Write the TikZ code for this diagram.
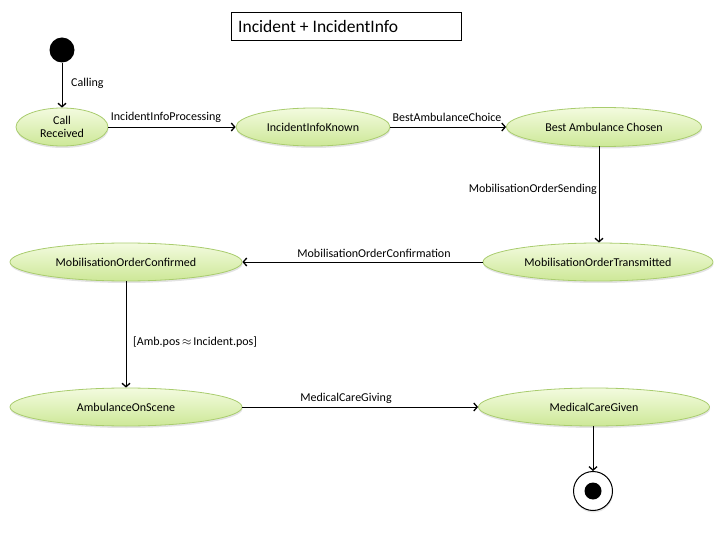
\documentclass[tikz,border=0pt]{standalone}
\usepackage{fontspec}
\setmainfont{Carlito}
\usetikzlibrary{arrows.meta,shapes.geometric,shadows}
\definecolor{stborder}{HTML}{A9CC6E}
\definecolor{sttop}{HTML}{F3FBDF}
\definecolor{stbot}{HTML}{CDE897}
\tikzset{
  st/.style={ellipse, draw=stborder, line width=0.8pt, top color=sttop, bottom color=stbot,
    inner sep=0pt, font=\fontsize{12}{13.5}\selectfont, align=center,
    drop shadow={opacity=0.22, shadow xshift=0.5pt, shadow yshift=-2pt}},
  tr/.style={draw=black, line width=0.9pt, -{Straight Barb[length=3.5pt,width=8pt,line width=1.3pt]}},
  lbl/.style={font=\fontsize{12}{13}\selectfont, inner sep=0pt}
}
\begin{document}
\begin{tikzpicture}[x=1pt,y=-1pt]
\useasboundingbox (0,0) rectangle (720,540);
% title
\node[draw=black, line width=0.8pt, minimum width=230pt, minimum height=28pt, inner sep=0pt] (title) at (346,26) {};
\node[anchor=west, font=\fontsize{17.5}{19}\selectfont, inner sep=0pt] (titletext) at (238,26) {Incident + IncidentInfo};
% states
\node[circle, fill=black, minimum size=25pt, inner sep=0pt] (init) at (62,50) {};
\node[st, minimum width=92pt, minimum height=38pt] (cr) at (62,127) {Call\\Received};
\node[st, minimum width=154pt, minimum height=38pt] (iik) at (313,127) {IncidentInfoKnown};
\node[st, minimum width=195pt, minimum height=39pt] (bac) at (604,127) {Best Ambulance Chosen};
\node[st, minimum width=230pt, minimum height=38pt] (mot) at (598,262) {MobilisationOrderTransmitted};
\node[st, minimum width=232pt, minimum height=38pt] (moc) at (126,262) {MobilisationOrderConfirmed};
\node[st, minimum width=232pt, minimum height=38pt] (aos) at (126,407) {AmbulanceOnScene};
\node[st, minimum width=231pt, minimum height=38pt] (mcg) at (594,407) {MedicalCareGiven};
\node[circle, draw=black, line width=1pt, fill=white, minimum size=39pt, inner sep=0pt,
  drop shadow={opacity=0.2, shadow xshift=0.5pt, shadow yshift=-2pt}] (fin) at (593,491) {};
\node[circle, fill=black, minimum size=17pt, inner sep=0pt] (findot) at (fin.center) {};
% transitions
\draw[tr] (init) -- (cr);
\draw[tr] (cr) -- (iik);
\draw[tr] (iik) -- (bac);
\coordinate (bacb) at (599,146);
\draw[tr] (bacb) -- (mot.north -| bacb);
\draw[tr] (mot) -- (moc);
\draw[tr] (moc.south) -- (aos.north);
\draw[tr] (aos) -- (mcg);
\draw[tr] (mcg.south -| fin) -- (fin.north);
% labels
\node[lbl, anchor=west] (l1) at (71,83) {Calling};
\node[lbl] (l2) at (166,117) {IncidentInfoProcessing};
\node[lbl] (l3) at (447,117) {BestAmbulanceChoice};
\node[lbl, anchor=east] (l4) at (597,189) {MobilisationOrderSending};
\node[lbl] (l5) at (374,253) {MobilisationOrderConfirmation};
\node[lbl, anchor=west] (l6) at (133,342) {[Amb.pos\,$\approx$\,Incident.pos]};
\node[lbl] (l7) at (346,398) {MedicalCareGiving};
\end{tikzpicture}
\end{document}
